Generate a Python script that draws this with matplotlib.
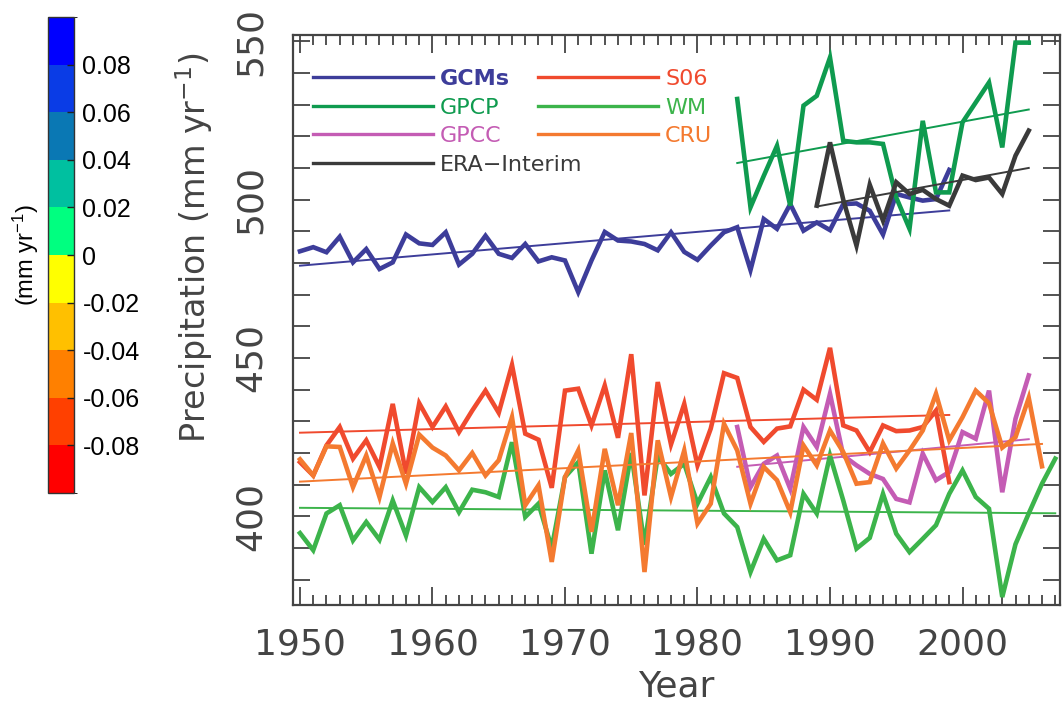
import matplotlib
matplotlib.use('Agg')
import matplotlib.pyplot as plt
import numpy as np
from matplotlib.colors import ListedColormap, BoundaryNorm
from matplotlib.colorbar import ColorbarBase
from matplotlib.ticker import MultipleLocator, FuncFormatter

plt.rcParams['font.family'] = 'DejaVu Sans'
plt.rcParams['mathtext.default'] = 'regular'

# ---- data ----
gcms_years = np.arange(1950, 2000)
gcms = [483.7, 485.0, 483.4, 488.3, 480.2, 484.4, 478.1, 480.2, 489.0, 486.2,
        485.7, 489.7, 479.5, 482.9, 488.6, 482.9, 481.6, 486.0, 480.5, 481.8,
        480.8, 470.8, 480.8, 489.8, 487.1, 486.8, 486.0, 484.0, 489.7, 483.5,
        481.0, 485.5, 489.7, 491.3, 477.8, 493.9, 490.8, 498.6, 490.2, 492.8,
        490.4, 498.6, 498.8, 496.5, 489.0, 501.8, 500.7, 499.7, 500.2, 509.4]

gpcp_years = np.arange(1983, 2006)
gpcp = [531.8, 497.6, 507.5, 517.0, 498.1, 529.7, 532.8, 544.9, 518.6, 518.1,
        518.1, 517.6, 500.7, 490.8, 524.9, 502.3, 502.3, 524.4, 530.7, 537.0,
        516.5, 549.6, 549.6]

gpcc_years = np.arange(1983, 2006)
gpcc = [428.2, 409.2, 416.6, 419.2, 408.7, 428.2, 421.9, 438.7, 419.2, 416.1,
        413.4, 411.8, 405.5, 404.4, 419.8, 411.4, 414.0, 426.6, 424.5, 439.7,
        407.6, 430.8, 444.5]

era_years = np.arange(1989, 2006)
era = [498.1, 518.1, 500.0, 485.5, 504.7, 493.4, 505.5, 501.8, 503.1, 500.2,
       498.1, 507.6, 506.2, 507.0, 501.8, 513.9, 521.8]

s06_years = np.arange(1950, 2000)
s06 = [417.1, 412.9, 422.4, 428.2, 418.2, 424.0, 415.6, 435.5, 413.5, 435.7,
       428.2, 434.7, 426.6, 433.4, 439.7, 432.7, 447.8, 426.1, 424.2, 409.0,
       439.7, 440.3, 428.7, 441.3, 424.8, 451.2, 406.6, 442.4, 422.7, 435.5,
       416.1, 427.7, 445.2, 443.7, 428.2, 423.5, 427.7, 428.4, 440.0, 436.8,
       453.2, 428.7, 427.1, 420.3, 428.7, 426.9, 427.1, 428.2, 433.4, 410.8]

wm_years = np.arange(1950, 2008)
wm = [394.7, 389.3, 400.9, 403.5, 392.4, 398.2, 392.6, 405.0, 393.9, 409.2,
      404.5, 409.2, 401.3, 408.4, 407.6, 406.1, 423.4, 399.8, 404.0, 390.0,
      412.4, 417.1, 388.2, 414.5, 395.6, 420.0, 391.0, 419.0, 413.4, 416.6,
      404.0, 412.4, 400.9, 396.6, 382.4, 392.9, 386.1, 387.7, 407.1, 400.9,
      419.2, 405.0, 389.8, 393.2, 407.1, 394.5, 388.7, 392.9, 397.2, 407.1,
      414.5, 406.1, 402.4, 374.5, 391.2, 400.9, 410.3, 418.2]

cru_years = np.arange(1950, 2007)
cru = [418.0, 412.9, 422.1, 421.9, 409.2, 419.2, 406.1, 423.0, 410.3, 425.8,
       421.7, 419.2, 414.5, 420.0, 412.9, 417.7, 431.3, 403.5, 409.8, 385.6,
       412.4, 420.8, 395.1, 421.3, 403.5, 426.3, 382.4, 424.0, 406.1, 420.8,
       397.7, 404.0, 429.2, 420.8, 404.0, 415.6, 411.4, 401.3, 422.4, 416.1,
       427.1, 420.3, 410.3, 410.8, 423.0, 415.1, 420.8, 427.1, 438.7, 424.0,
       431.3, 439.7, 435.7, 421.7, 425.0, 437.4, 415.8]

names = ['GCMs', 'GPCP', 'GPCC', 'ERA\u2212Interim', 'S06', 'WM', 'CRU']
colors = ['#3d3d9a', '#0f9b4f', '#c45cb4', '#3a3a3a', '#f04a2e', '#3cb44b', '#f47a30']
all_years = [gcms_years, gpcp_years, gpcc_years, era_years, s06_years, wm_years, cru_years]
all_vals = [gcms, gpcp, gpcc, era, s06, wm, cru]

cb_bounds = np.linspace(-0.1, 0.1, 11)
cb_colors = ['#ff0000', '#ff4000', '#ff8000', '#ffc000', '#ffff00',
             '#00ff80', '#00c0a0', '#0a78b4', '#0a3ce6', '#0000ff']
cb_ticks = [-0.08, -0.06, -0.04, -0.02, 0, 0.02, 0.04, 0.06, 0.08]

# ---- figure ----
fig = plt.figure(figsize=(10.63, 7.06), dpi=100)
ax = fig.add_axes([0.2756, 0.1431, 0.7216, 0.8073])

handles = []
for name, yrs, vals, col in zip(names, all_years, all_vals, colors):
    ln, = ax.plot(yrs, vals, color=col, lw=3.3, solid_joinstyle='miter')
    p = np.polyfit(yrs, vals, 1)
    ends = np.array([yrs[0], yrs[-1]])
    ax.plot(ends, np.polyval(p, ends), color=col, lw=1.4)
    handles.append(ln)

ax.set_xlim(1949.47, 2007.36)
ax.set_ylim(372, 552)

gray = '#444444'
ax.xaxis.set_major_locator(MultipleLocator(10))
ax.xaxis.set_minor_locator(MultipleLocator(1))
ax.yaxis.set_major_locator(MultipleLocator(50))
ax.yaxis.set_minor_locator(MultipleLocator(10))
ax.tick_params(which='both', direction='in', top=True, right=True, color=gray, width=1.3)
ax.tick_params(axis='x', which='major', length=13, labelsize=26, pad=16, labelcolor=gray)
ax.tick_params(axis='x', which='minor', length=7)
ax.tick_params(axis='y', which='both', length=12)
ax.tick_params(axis='y', which='major', labelsize=26, pad=18, labelcolor=gray, labelrotation=90)
for lbl in ax.get_yticklabels():
    lbl.set_va('center')
for sp in ax.spines.values():
    sp.set_color(gray)
    sp.set_linewidth(1.6)

ax.set_xlabel('Year', fontsize=26, color=gray, labelpad=6)
ax.set_ylabel('Precipitation (mm yr$^{-1}$)', fontsize=24, color=gray)
ax.yaxis.set_label_coords(-0.102, 0.626)

leg = ax.legend(handles, names, ncol=2, loc='upper left', bbox_to_anchor=(0.026, 0.94),
                frameon=False, handlelength=5.4, handletextpad=0.32, columnspacing=-2.0,
                labelspacing=0.38, fontsize=16, borderaxespad=0, borderpad=0)
for txt, col in zip(leg.get_texts(), colors):
    txt.set_color(col)
for lh in leg.get_lines():
    lh.set_linewidth(2.4)
leg.get_texts()[0].set_fontweight('bold')

# ---- colour bar ----
cax = fig.add_axes([0.0452, 0.3017, 0.0245, 0.674])
cmap = ListedColormap(cb_colors)
norm = BoundaryNorm(cb_bounds, cmap.N)
cb = ColorbarBase(cax, cmap=cmap, norm=norm, boundaries=cb_bounds, ticks=cb_ticks,
                  orientation='vertical')
cb.ax.yaxis.set_major_formatter(FuncFormatter(lambda v, pos: '0' if abs(v) < 1e-9 else '%g' % v))
cb.ax.tick_params(direction='in', length=5, width=1, color='#222222', labelsize=18, pad=6)
for lbl in cb.ax.get_yticklabels():
    lbl.set_family('Liberation Sans')
cb.outline.set_edgecolor('#333333')
cb.outline.set_linewidth(1)
cb.ax.yaxis.set_label_position('left')
cb.set_label('(mm yr$^{-1}$)', fontsize=17, family='Liberation Sans', labelpad=5)

fig.savefig('out.png', dpi=100)
